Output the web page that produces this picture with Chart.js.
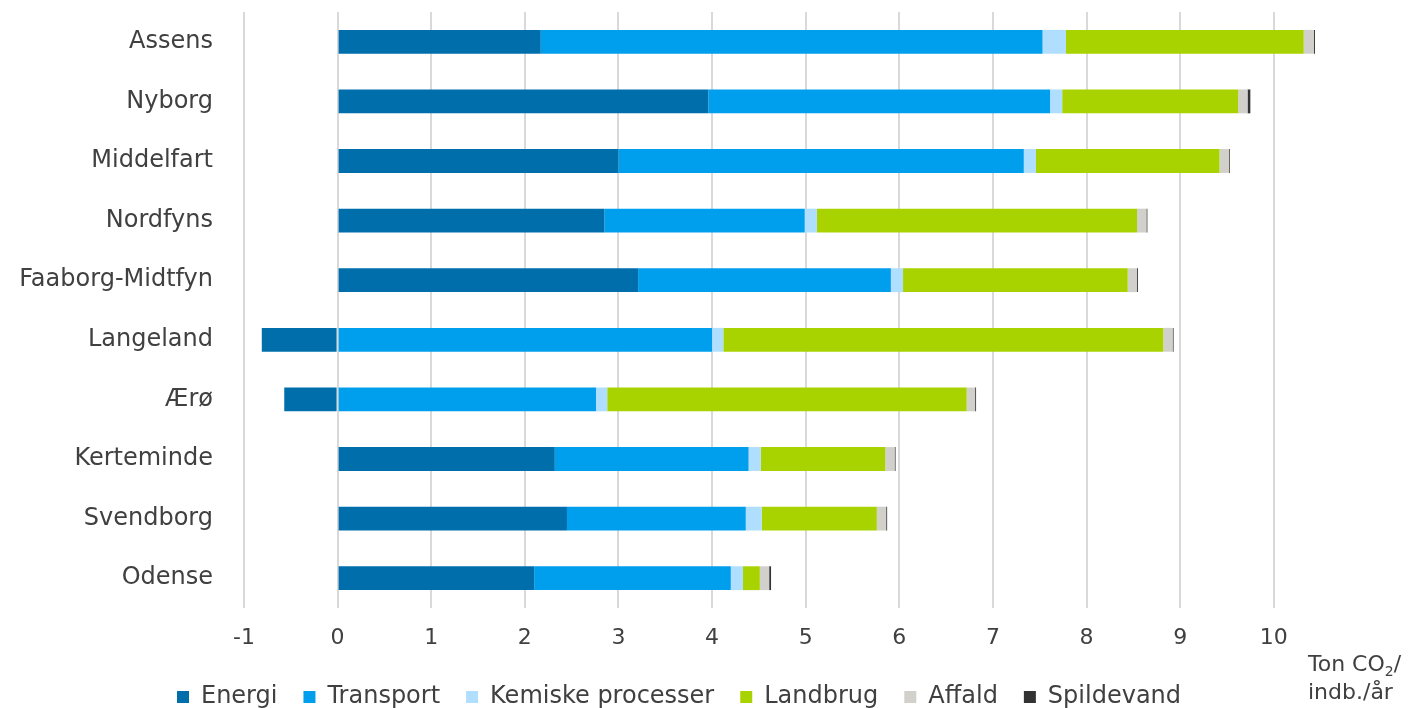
<!DOCTYPE html>
<html>
<head>
<meta charset="utf-8">
<script src="https://cdn.jsdelivr.net/npm/chart.js@4"></script>
<style>
  html, body { margin: 0; padding: 0; background: #fff; overflow: hidden; }
  #wrap { width: 1412px; height: 719px; position: relative; }
</style>
</head>
<body>
<div id="wrap"><canvas id="myChart"></canvas></div>
<script>
"use strict";

// Data (ton CO2 per indbygger per år)
const kommuner = ["Assens", "Nyborg", "Middelfart", "Nordfyns", "Faaborg-Midtfyn",
    "Langeland", "Ærø", "Kerteminde", "Svendborg", "Odense"];
const energi     = [2.17, 3.96, 3.00, 2.85, 3.21, -0.81, -0.57, 2.32, 2.45, 2.10];
const transport  = [5.36, 3.65, 4.33, 2.14, 2.70, 4.00, 2.76, 2.07, 1.91, 2.10];
const kemiske    = [0.25, 0.13, 0.13, 0.13, 0.13, 0.12, 0.12, 0.13, 0.17, 0.13];
const landbrug   = [2.54, 1.88, 1.96, 3.42, 2.40, 4.70, 3.84, 1.33, 1.23, 0.18];
const affald     = [0.11, 0.10, 0.10, 0.10, 0.10, 0.10, 0.09, 0.10, 0.10, 0.10];
const spildevand = [0.01, 0.03, 0.01, 0.01, 0.01, 0.01, 0.01, 0.01, 0.01, 0.02];

const FONT = "'DejaVu Sans', Verdana, sans-serif";
const TEXT = "#404040";

function ds(label, values, color) {
    return {
        label: label,
        data: values,
        backgroundColor: color,
        borderWidth: 0,
        barPercentage: 0.4,
        categoryPercentage: 1,
    };
}

// unit label under the x axis, right side
const unitLabel = {
    id: "unitLabel",
    afterDraw(chart) {
        const ctx = chart.ctx;
        ctx.save();
        ctx.fillStyle = TEXT;
        ctx.textBaseline = "middle";
        ctx.textAlign = "left";
        ctx.font = "22px " + FONT;
        let x = 1308;
        const y1 = 665;
        ctx.fillText("Ton CO", x, y1);
        x += ctx.measureText("Ton CO").width;
        ctx.font = "14px " + FONT;
        ctx.fillText("2", x, y1 + 7);
        x += ctx.measureText("2").width;
        ctx.font = "22px " + FONT;
        ctx.fillText("/", x, y1);
        ctx.fillText("indb./år", 1308, 693);
        ctx.restore();
    },
};

const data = {
    labels: kommuner,
    datasets: [
        ds("Energi", energi, "#006EAB"),
        ds("Transport", transport, "#009FEE"),
        ds("Kemiske processer", kemiske, "#B0DEFE"),
        ds("Landbrug", landbrug, "#A9D300"),
        ds("Affald", affald, "#D1D0CA"),
        ds("Spildevand", spildevand, "#333333"),
    ],
};

const config = {
    type: "bar",
    data: data,
    plugins: [unitLabel],
    options: {
        indexAxis: "y",
        responsive: true,
        maintainAspectRatio: false,
        animation: false,
        layout: { padding: { top: 12, right: 54, left: 0, bottom: 0 } },
        scales: {
            x: {
                stacked: true,
                min: -1,
                max: 10.9,
                grid: {
                    color: (c) => Number.isInteger(c.tick.value) ? "#D9D9D9" : "rgba(0,0,0,0)",
                    lineWidth: 2,
                    drawTicks: false,
                },
                border: { display: false },
                ticks: {
                    stepSize: 1,
                    padding: 17,
                    color: TEXT,
                    font: { family: FONT, size: 22 },
                    callback: (v) => Number.isInteger(v) ? String(v) : "",
                },
                afterFit: (scale) => { scale.height = 51; },
            },
            y: {
                stacked: true,
                grid: { display: false, drawTicks: false },
                border: { display: false },
                ticks: {
                    padding: 31,
                    color: TEXT,
                    font: { family: FONT, size: 24 },
                },
                afterFit: (scale) => {
                    scale.width = 244;
                    scale.paddingTop = 0;
                    scale.paddingBottom = 0;
                },
            },
        },
        plugins: {
            tooltip: { enabled: false },
            legend: {
                position: "bottom",
                labels: {
                    boxWidth: 12,
                    boxHeight: 12,
                    padding: 26,
                    color: TEXT,
                    font: { family: FONT, size: 24 },
                },
            },
        },
    },
};

const myChart = new Chart(document.getElementById("myChart"), config);
</script>
</body>
</html>
